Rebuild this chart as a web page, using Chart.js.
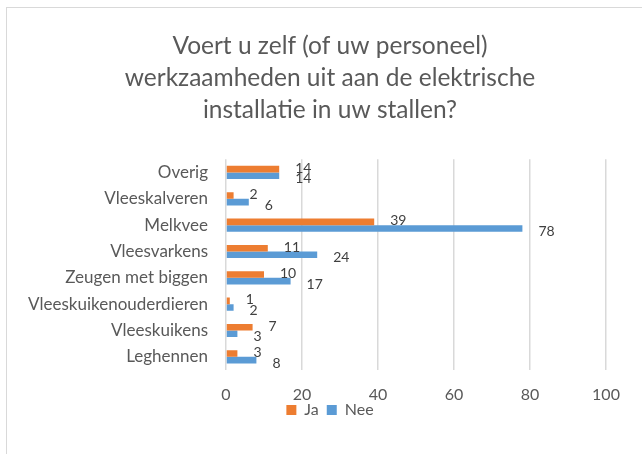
<!DOCTYPE html>
<html>
<head>
<meta charset="utf-8">
<script src="https://cdn.jsdelivr.net/npm/chart.js@4"></script>
<style>
  html, body { margin: 0; padding: 0; background: #fff; overflow: hidden; }
  #frame { position: absolute; left: 6px; top: 7px; width: 700px; height: 520px; border: 1px solid #d9d9d9; }
  #wrap { position: absolute; left: 0; top: 0; width: 642px; height: 454px; }
</style>
</head>
<body>
<div id="frame"></div>
<div id="wrap"><canvas id="chart"></canvas></div>
<script>
// categories (top to bottom) and answers per category
const categories = ["Overig", "Vleeskalveren", "Melkvee", "Vleesvarkens", "Zeugen met biggen", "Vleeskuikenouderdieren", "Vleeskuikens", "Leghennen"];
const jaValues = [14, 2, 39, 11, 10, 1, 7, 3];
const neeValues = [14, 6, 78, 24, 17, 2, 3, 8];
const xTicks = [0, 20, 40, 60, 80, 100];

const FONT = "Lato, 'Open Sans', sans-serif";

// value labels next to the bar ends, Excel style
const valueLabels = {
  id: "valueLabels",
  afterDatasetsDraw(chart) {
    const ctx = chart.ctx;
    ctx.save();
    ctx.font = "14px " + FONT;
    ctx.fillStyle = "#404040";
    ctx.textAlign = "left";
    ctx.textBaseline = "middle";
    chart.data.datasets.forEach((ds, i) => {
      const meta = chart.getDatasetMeta(i);
      meta.data.forEach((bar, j) => {
        const dy = i === 0 ? -1 : 3;
        ctx.fillText(ds.data[j], bar.x + 16, bar.y + dy);
      });
    });
    ctx.restore();
  }
};

// legend sits tight under the tick labels, like in Excel
const legendNudge = {
  id: "legendNudge",
  afterLayout(chart) {
    chart.legend.top -= 9;
    chart.legend.bottom -= 9;
  }
};

new Chart(document.getElementById("chart"), {
  type: "bar",
  data: {
    labels: categories,
    datasets: [
      { label: "Ja", data: jaValues, backgroundColor: "#ED7D31", categoryPercentage: 0.5, barPercentage: 1 },
      { label: "Nee", data: neeValues, backgroundColor: "#5B9BD5", categoryPercentage: 0.5, barPercentage: 1 }
    ]
  },
  options: {
    indexAxis: "y",
    responsive: true,
    maintainAspectRatio: false,
    animation: false,
    layout: { padding: { left: 20, right: 2, top: 0, bottom: 17 } },
    plugins: {
      title: {
        display: true,
        text: ["Voert u zelf (of uw personeel)", "werkzaamheden uit aan de elektrische", "installatie in uw stallen?"],
        color: "#595959",
        font: { family: FONT, size: 24.5, weight: "normal", lineHeight: 1.31 },
        padding: { top: 30, bottom: 33 }
      },
      legend: {
        position: "bottom",
        labels: {
          color: "#595959",
          font: { family: FONT, size: 16 },
          boxWidth: 10,
          boxHeight: 10,
          padding: 8
        }
      },
      tooltip: { enabled: false }
    },
    scales: {
      x: {
        min: 0,
        max: 100,
        afterBuildTicks: (axis) => { axis.ticks = xTicks.map(v => ({ value: v })); },
        afterFit: (axis) => { axis.height = 33; },
        grid: { color: "#d9d9d9", lineWidth: 1.5, drawTicks: false },
        border: { display: false },
        ticks: { color: "#595959", font: { family: FONT, size: 16, lineHeight: 1 }, padding: 17 }
      },
      y: {
        afterFit: (axis) => { axis.width = 226 - 20; },
        grid: { display: false },
        border: { display: false },
        ticks: { color: "#595959", font: { family: FONT, size: 17 }, padding: 10 }
      },
      // empty spacer on the right so the title and legend centre like the original
      spacer: {
        type: "linear",
        position: "right",
        afterFit: (axis) => { axis.width = 34; },
        grid: { display: false },
        border: { display: false },
        ticks: { display: false }
      }
    }
  },
  plugins: [valueLabels, legendNudge]
});
</script>
</body>
</html>
